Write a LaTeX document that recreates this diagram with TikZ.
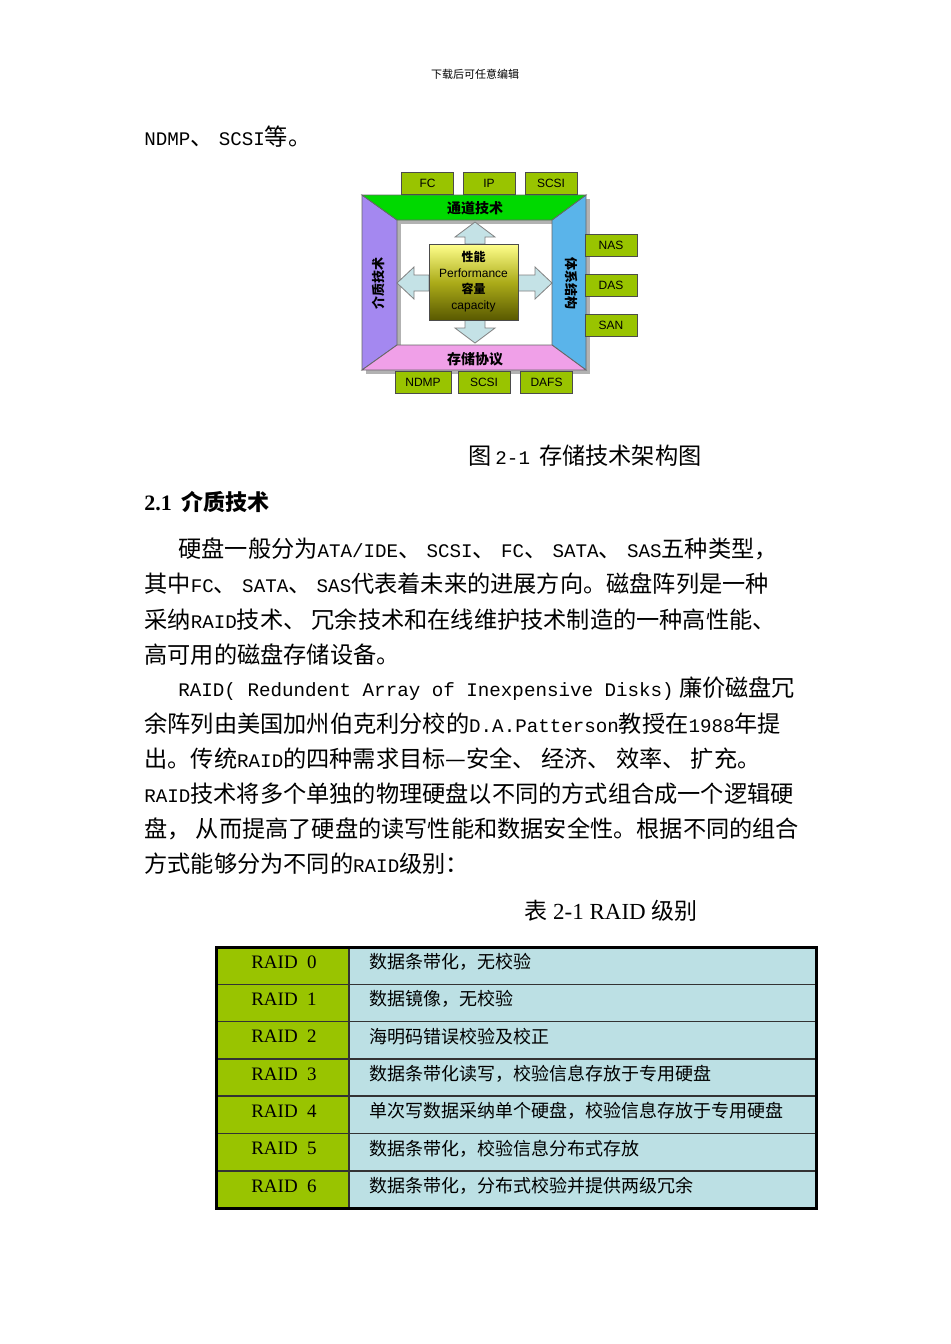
\documentclass[tikz,border=0pt]{standalone}
\usepackage{fontspec}
\setmainfont{Liberation Serif}
\newfontfamily\cjk{Noto Sans CJK SC}
\newfontfamily\mono{Liberation Mono}
\newfontfamily\arial{Liberation Sans}
\newcommand{\M}[1]{{\mono\fontsize{9.6}{12}\selectfont #1}}
\definecolor{boxg}{HTML}{99C400}
\definecolor{cellb}{HTML}{BCE0E4}
\definecolor{arr}{HTML}{C4E2E6}
\definecolor{pur}{HTML}{A488F0}
\definecolor{blu}{HTML}{5AB4EA}
\definecolor{pnk}{HTML}{F0A0E8}
\begin{document}
\begin{tikzpicture}[x=0.5pt,y=-0.5pt,
  lbl/.style={draw=black!70,fill=boxg,minimum width=26pt,minimum height=11pt,inner sep=0pt,font=\arial\fontsize{6}{7}\selectfont},
  body/.style={anchor=west,inner sep=0pt,font=\cjk\fontsize{11.6}{12}\selectfont},
  cellt/.style={anchor=west,inner sep=0pt,font=\cjk\fontsize{9}{11}\selectfont},
  raid/.style={anchor=center,inner sep=0pt,font=\fontsize{9.5}{11}\selectfont}]
\useasboundingbox (0,0) rectangle (950,1344);
\fill[white] (0,0) rectangle (950,1344);
\node[inner sep=0pt,font=\cjk\fontsize{5.5}{6}\selectfont] (hdr) at (475,74) {下载后可任意编辑};
\node[body] (l0) at (144,137) {\M{NDMP}、 \M{SCSI}等。};
% diagram
\fill[black!30] (366,199) -- (590,199) -- (590,374) -- (366,374) -- cycle;
\fill[white] (401,224) rectangle (556,349);
\draw[black!60,fill=pur] (362,195) -- (397,220) -- (397,345) -- (362,370) -- cycle;
\draw[black!60,fill=blu] (586,195) -- (552,220) -- (552,345) -- (586,370) -- cycle;
\draw[black!60,fill=green!85!black] (362,195) -- (586,195) -- (552,220) -- (397,220) -- cycle;
\draw[black!60,fill=pnk] (362,370) -- (586,370) -- (552,345) -- (397,345) -- cycle;
\node[font=\cjk\bfseries\fontsize{7}{8}\selectfont] (t1) at (475,208) {通道技术};
\node[font=\cjk\bfseries\fontsize{7}{8}\selectfont] (t2) at (475,359) {存储协议};
\node[font=\cjk\bfseries\fontsize{6.5}{8}\selectfont,rotate=90] (t3) at (378,283) {介质技术};
\node[font=\cjk\bfseries\fontsize{6.5}{8}\selectfont,rotate=-90] (t4) at (571,283) {体系结构};
\node[lbl] (fc) at (427.5,183) {FC};
\node[lbl] (ip) at (489,183) {IP};
\node[lbl] (sc1) at (551,183) {SCSI};
\node[lbl] (nas) at (611,245.5) {NAS};
\node[lbl] (das) at (611,285) {DAS};
\node[lbl] (san) at (611,325) {SAN};
\node[lbl,minimum width=28pt] (ndmp) at (423,382) {NDMP};
\node[lbl] (sc2) at (484,382) {SCSI};
\node[lbl] (dafs) at (546.5,382) {DAFS};
% arrows
\draw[black!50,fill=arr] (465,244) -- (465,237) -- (455,237) -- (475,222) -- (495,237) -- (485,237) -- (485,244) -- cycle;
\draw[black!50,fill=arr] (465,320) -- (465,328) -- (455,328) -- (475,343) -- (495,328) -- (485,328) -- (485,320) -- cycle;
\draw[black!50,fill=arr] (429,275) -- (414,275) -- (414,267) -- (397,283) -- (414,299) -- (414,291) -- (429,291) -- cycle;
\draw[black!50,fill=arr] (518,275) -- (535,275) -- (535,267) -- (552,283) -- (535,299) -- (535,291) -- (518,291) -- cycle;
\shade[top color=yellow!45!white,bottom color=olive!70!black,draw=black!70] (429,244) rectangle (518,320);
\node[align=center,inner sep=0pt,font=\fontsize{6}{8}\selectfont] (core) at (473.5,282) {{\cjk\bfseries 性能}\\{\arial Performance}\\{\cjk\bfseries 容量}\\{\arial capacity}};
% text
\node[inner sep=0pt,font=\cjk\fontsize{11.6}{12}\selectfont,anchor=west] (cap) at (468,456) {图\,\M{2-1}\, 存储技术架构图};
\node[body,font=\cjk\bfseries\fontsize{11}{12}\selectfont] (h) at (144,502) {{\rmfamily\bfseries 2.1}\ \ 介质技术};
\node[body] (p1) at (178,549) {硬盘一般分为\M{ATA/IDE}、 \M{SCSI}、 \M{FC}、 \M{SATA}、 \M{SAS}五种类型，};
\node[body] (p2) at (144,584) {其中\M{FC}、 \M{SATA}、 \M{SAS}代表着未来的进展方向。磁盘阵列是一种};
\node[body] (p3) at (144,620) {采纳\M{RAID}技术、 冗余技术和在线维护技术制造的一种高性能、};
\node[body] (p4) at (144,655) {高可用的磁盘存储设备。};
\node[body] (p5) at (178,689) {\M{RAID( Redundent Array of Inexpensive Disks)} 廉价磁盘冗};
\node[body] (p6) at (144,724) {余阵列由美国加州伯克利分校的\M{D.A.Patterson}教授在\M{1988}年提};
\node[body] (p7) at (144,759) {出。传统\M{RAID}的四种需求目标—安全、 经济、 效率、 扩充。};
\node[body] (p8) at (144,794) {\M{RAID}技术将多个单独的物理硬盘以不同的方式组合成一个逻辑硬};
\node[body] (p9) at (144,829) {盘， 从而提高了硬盘的读写性能和数据安全性。根据不同的组合};
\node[body] (p10) at (144,864) {方式能够分为不同的\M{RAID}级别：};
\node[inner sep=0pt,font=\fontsize{11.5}{12}\selectfont] (tcap) at (611,911) {{\cjk 表} 2-1 RAID {\cjk 级别}};
% table
\fill[boxg] (216,947) rectangle (349,1208);
\fill[cellb] (349,947) rectangle (816,1208);
\foreach \i in {1,...,6} \draw[black!80,line width=0.8pt] (216,{947+\i*37.3}) -- (816,{947+\i*37.3});
\draw[black!80,line width=0.8pt] (349,947) -- (349,1208);
\draw[black,line width=1.5pt] (216,947) rectangle (816,1208);
\foreach \n/\t [count=\k from 0] in {0/数据条带化，无校验,1/数据镜像，无校验,2/海明码错误校验及校正,3/数据条带化读写，校验信息存放于专用硬盘,4/单次写数据采纳单个硬盘，校验信息存放于专用硬盘,5/数据条带化，校验信息分布式存放,6/数据条带化，分布式校验并提供两级冗余}{
  \node[raid] (r\k) at (284,{962+\k*37.3}) {RAID\ \ \n};
  \node[cellt] (c\k) at (369,{962+\k*37.3}) {\t};
}
\end{tikzpicture}
\end{document}
